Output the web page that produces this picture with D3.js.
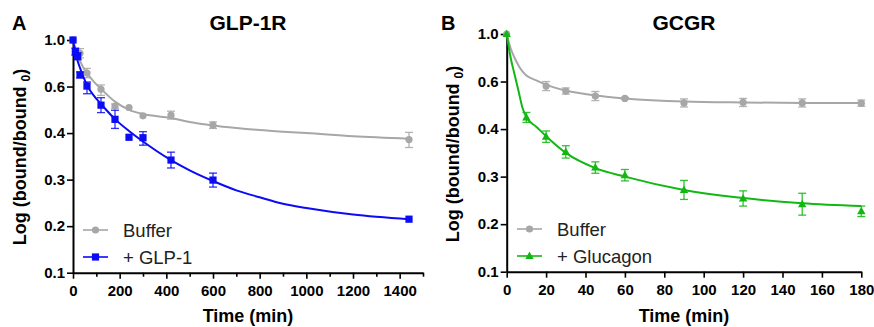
<!DOCTYPE html>
<html>
<head>
<meta charset="utf-8">
<script src="https://cdn.jsdelivr.net/npm/d3@7"></script>
<style>
  body { margin: 0; background: #fff; }
  svg { display: block; }
</style>
</head>
<body>
<svg id="chart" width="874" height="327"></svg>
<script>
// y axis is drawn with evenly spaced labels, like the original figure
var yTicks = [0.1, 0.2, 0.3, 0.4, 0.6, 1.0];

// panel A - GLP-1R
var glpBufferTimes = [0, 30, 60, 120, 180, 240, 300, 420, 600, 1440];
var glpBuffer      = [1.0, 0.886, 0.716, 0.588, 0.516, 0.510, 0.474, 0.477, 0.434, 0.386];
var glpBufferErr   = [0, 0.04, 0.04, 0.026, 0.009, 0, 0, 0.017, 0.014, 0.017];
var glpPeptideTimes = [0, 10, 20, 30, 60, 120, 180, 240, 300, 420, 600, 1440];
var glpPeptide      = [1.0, 0.90, 0.86, 0.70, 0.604, 0.520, 0.459, 0.391, 0.390, 0.342, 0.299, 0.215];
var glpPeptideErr   = [0, 0.03, 0.03, 0.025, 0.035, 0.032, 0.039, 0, 0.016, 0.017, 0.015, 0];
var glpFitTimes     = [0, 10, 20, 30, 45, 60, 90, 120, 180, 240, 300, 420, 500, 600, 700, 800, 900, 1000, 1200, 1440];
var glpBufferFit    = [1.0, 0.93, 0.87, 0.82, 0.76, 0.715, 0.64, 0.59, 0.535, 0.50, 0.482, 0.465, 0.448, 0.433, 0.422, 0.413, 0.406, 0.40, 0.393, 0.388];
var glpPeptideFit   = [1.0, 0.90, 0.82, 0.76, 0.68, 0.61, 0.56, 0.525, 0.46, 0.409, 0.382, 0.342, 0.320, 0.297, 0.277, 0.262, 0.248, 0.239, 0.225, 0.215];
var glpXTicks = [0, 200, 400, 600, 800, 1000, 1200, 1400];
var glpXMinor = [100, 300, 500, 700, 900, 1100, 1300, 1500];

// panel B - GCGR
var gcgBufferTimes = [0, 20, 30, 45, 60, 90, 120, 150, 180];
var gcgBuffer      = [1.0, 0.581, 0.56, 0.539, 0.529, 0.51, 0.512, 0.51, 0.509];
var gcgBufferErr   = [0, 0.019, 0.013, 0.019, 0.004, 0.017, 0.017, 0.017, 0.013];
var gcgPeptideTimes = [0, 10, 20, 30, 45, 60, 90, 120, 150, 180];
var gcgPeptide      = [1.0, 0.449, 0.384, 0.352, 0.319, 0.303, 0.272, 0.254, 0.242, 0.227];
var gcgPeptideErr   = [0, 0.021, 0.012, 0.013, 0.012, 0.012, 0.02, 0.016, 0.023, 0.011];
var gcgFitTimes     = [0, 2, 4, 6, 8, 10, 15, 20, 30, 45, 60, 90, 120, 150, 180];
var gcgBufferFit    = [1.0, 0.88, 0.80, 0.735, 0.685, 0.65, 0.61, 0.587, 0.562, 0.541, 0.529, 0.516, 0.512, 0.51, 0.51];
var gcgPeptideFit   = [1.0, 0.80, 0.66, 0.56, 0.49, 0.45, 0.41, 0.385, 0.35, 0.318, 0.30, 0.272, 0.255, 0.244, 0.238];
var gcgXTicks = [0, 20, 40, 60, 80, 100, 120, 140, 160, 180];

var font = "'Liberation Sans', Arial, sans-serif";
var grey = "#a7a7a9";
var svg = d3.select("#chart");

function zip(xs, ys, es) {
  return xs.map(function (t, i) { return { t: t, v: ys[i], e: es ? es[i] : 0 }; });
}

function marker(sel, shape, color) {
  if (shape == "circle") {
    sel.append("circle").attr("r", 3.6).attr("fill", color);
  } else if (shape == "square") {
    sel.append("rect").attr("x", -3.6).attr("y", -3.6).attr("width", 7.2).attr("height", 7.2).attr("fill", color);
  } else {
    sel.append("path").attr("d", "M0,-4.5L4.2,3L-4.2,3Z").attr("fill", color);
  }
}

function drawPanel(p) {
  var x = d3.scaleLinear().domain(p.xDomain).range(p.xRange);
  var yPos = d3.quantize(d3.interpolateNumber(p.yRange[0], p.yRange[1]), yTicks.length);
  var y = d3.scaleLinear().domain(yTicks).range(yPos);
  var g = svg.append("g");

  // axes
  g.append("g").attr("transform", "translate(0," + p.yRange[0] + ")")
    .call(d3.axisBottom(x).tickValues(p.xTicks).tickSize(6).tickSizeOuter(0).tickPadding(7).tickFormat(d3.format("d")));
  if (p.xMinor) {
    g.append("g").attr("transform", "translate(0," + p.yRange[0] + ")")
      .call(d3.axisBottom(x).tickValues(p.xMinor).tickSize(4).tickSizeOuter(0).tickFormat(""))
      .select(".domain").remove();
  }
  g.append("g").attr("transform", "translate(" + p.xRange[0] + ",0)")
    .call(d3.axisLeft(y).tickValues(yTicks).tickSize(6).tickSizeOuter(0).tickPadding(2).tickFormat(d3.format(".1f")));
  g.selectAll(".domain").attr("stroke", "#000").attr("stroke-width", 2);
  g.selectAll(".tick line").attr("stroke", "#000").attr("stroke-width", 1.6);
  g.selectAll(".tick text").attr("font-family", font).attr("font-size", 15)
    .attr("font-weight", "bold").attr("fill", "#000");

  // fitted curves
  var line = d3.line()
    .x(function (d) { return x(d.t); })
    .y(function (d) { return y(d.v); })
    .curve(d3.curveMonotoneX);

  p.series.forEach(function (s) {
    g.append("path").datum(zip(p.fitTimes, s.fit))
      .attr("d", line).attr("fill", "none")
      .attr("stroke", s.color).attr("stroke-width", 2);

    var pts = g.append("g").selectAll("g")
      .data(zip(s.times, s.values, s.err))
      .enter().append("g");
    var bars = pts.filter(function (d) { return d.e > 0; });
    bars.append("line")
      .attr("x1", function (d) { return x(d.t); }).attr("x2", function (d) { return x(d.t); })
      .attr("y1", function (d) { return y(d.v - d.e); }).attr("y2", function (d) { return y(d.v + d.e); });
    [-1, 1].forEach(function (k) {
      bars.append("line")
        .attr("x1", function (d) { return x(d.t) - 4; }).attr("x2", function (d) { return x(d.t) + 4; })
        .attr("y1", function (d) { return y(d.v + k * d.e); }).attr("y2", function (d) { return y(d.v + k * d.e); });
    });
    bars.selectAll("line").attr("stroke", s.color).attr("stroke-width", 1.3).attr("opacity", 0.85);
    pts.append("g")
      .attr("transform", function (d) { return "translate(" + x(d.t) + "," + y(d.v) + ")"; })
      .each(function () { marker(d3.select(this), s.shape, s.color); });
  });

  // legend
  p.series.forEach(function (s, i) {
    var ly = p.legend[1] + i * 27;
    var lg = g.append("g");
    lg.append("line").attr("x1", p.legend[0]).attr("x2", p.legend[0] + 25)
      .attr("y1", ly).attr("y2", ly).attr("stroke", s.color).attr("stroke-width", 1.6);
    marker(lg.append("g").attr("transform", "translate(" + (p.legend[0] + 12.5) + "," + ly + ")"), s.shape, s.color);
    lg.append("text").attr("x", p.legend[0] + 40).attr("y", ly + 6.5)
      .attr("font-family", font).attr("font-size", 18.5).attr("fill", "#222")
      .text(s.name);
  });

  // titles
  var cx = (p.xRange[0] + p.xRange[1]) / 2;
  g.append("text").attr("x", cx).attr("y", 30).attr("text-anchor", "middle")
    .attr("font-family", font).attr("font-size", 21).attr("font-weight", "bold").text(p.title);
  g.append("text").attr("x", p.letterX).attr("y", 30)
    .attr("font-family", font).attr("font-size", 20).attr("font-weight", "bold").text(p.letter);
  g.append("text").attr("x", cx).attr("y", 322).attr("text-anchor", "middle")
    .attr("font-family", font).attr("font-size", 18).attr("font-weight", "bold").text("Time (min)");
  var yl = g.append("text")
    .attr("transform", "translate(" + p.yLabel[0] + "," + p.yLabel[1] + ") rotate(-90)")
    .attr("text-anchor", "middle")
    .attr("font-family", font).attr("font-size", 18).attr("font-weight", "bold");
  yl.append("tspan").text("Log (bound/bound ");
  yl.append("tspan").attr("font-size", 12).attr("dy", 4).text("0");
  yl.append("tspan").attr("dy", -4).text(")");
}

drawPanel({
  title: "GLP-1R", letter: "A", letterX: 12,
  xDomain: [0, 1500], xRange: [73, 423], yRange: [272.7, 40],
  xTicks: glpXTicks, xMinor: glpXMinor,
  fitTimes: glpFitTimes,
  legend: [83, 230], yLabel: [26, 157],
  series: [
    { name: "Buffer", shape: "circle", color: grey, times: glpBufferTimes, values: glpBuffer, err: glpBufferErr, fit: glpBufferFit },
    { name: "+ GLP-1", shape: "square", color: "#0b0bf5", times: glpPeptideTimes, values: glpPeptide, err: glpPeptideErr, fit: glpPeptideFit }
  ]
});

drawPanel({
  title: "GCGR", letter: "B", letterX: 441,
  xDomain: [0, 180], xRange: [506.7, 861.3], yRange: [271.7, 34],
  xTicks: gcgXTicks, xMinor: null,
  fitTimes: gcgFitTimes,
  legend: [517, 229], yLabel: [459, 154],
  series: [
    { name: "Buffer", shape: "circle", color: grey, times: gcgBufferTimes, values: gcgBuffer, err: gcgBufferErr, fit: gcgBufferFit },
    { name: "+ Glucagon", shape: "triangle", color: "#12b812", times: gcgPeptideTimes, values: gcgPeptide, err: gcgPeptideErr, fit: gcgPeptideFit }
  ]
});
</script>
</body>
</html>
